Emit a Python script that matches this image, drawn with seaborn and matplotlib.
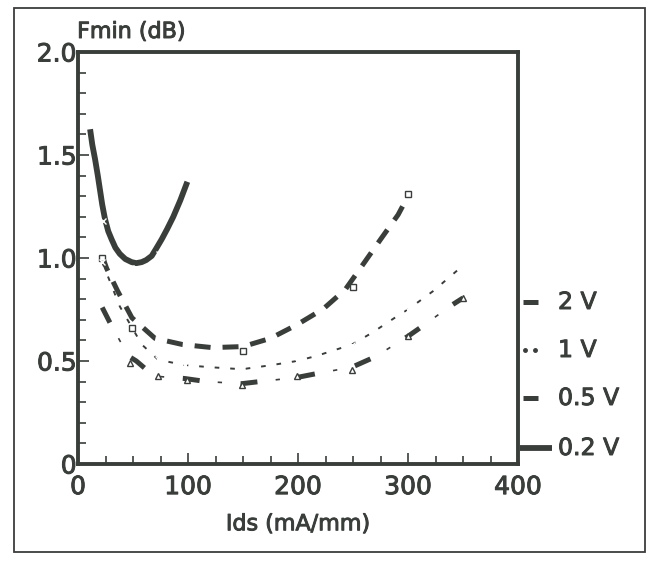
import matplotlib
matplotlib.use("Agg")
import matplotlib.pyplot as plt
import matplotlib.patheffects as pe
import seaborn as sns
from matplotlib.lines import Line2D
from matplotlib.patches import Rectangle
from matplotlib.ticker import MultipleLocator, FixedLocator, FixedFormatter

# ---- data ----
ids_2v = [22, 26, 36, 49, 70, 95, 122, 150, 175, 199, 223, 243, 259, 275, 291, 300]
f_2v = [1.01, 0.95, 0.84, 0.71, 0.61, 0.58, 0.565, 0.57, 0.61, 0.676, 0.753, 0.847, 0.968, 1.09, 1.21, 1.30]
mk_ids_2v = [22, 49, 150, 250, 300]
mk_f_2v = [1.0, 0.66, 0.55, 0.86, 1.31]

ids_1v = [22, 28, 38, 58, 73, 97, 120, 149, 176, 199, 217, 249, 267, 290, 300, 323, 344, 352]
f_1v = [0.98, 0.90, 0.765, 0.58, 0.506, 0.48, 0.47, 0.46, 0.48, 0.50, 0.525, 0.58, 0.636, 0.717, 0.75, 0.84, 0.936, 0.968]
mk_ids_1v = [22, 73, 97, 149, 199, 249, 300, 352]
mk_f_1v = [0.98, 0.51, 0.48, 0.46, 0.50, 0.58, 0.75, 0.97]

ids_05 = [22, 30, 40, 47, 53, 64, 73, 97, 117, 149, 165, 199, 218, 249, 270, 300, 315, 338, 350]
f_05 = [0.76, 0.676, 0.58, 0.52, 0.50, 0.45, 0.425, 0.415, 0.40, 0.39, 0.40, 0.42, 0.44, 0.47, 0.52, 0.62, 0.676, 0.765, 0.806]
mk_ids_05 = [47, 73, 99, 149, 199, 249, 300, 350]
mk_f_05 = [0.49, 0.425, 0.41, 0.384, 0.428, 0.454, 0.623, 0.806]

ids_02 = [11, 13, 15.5, 18, 20, 22, 24.5, 27.5, 30.6, 34, 38, 43, 48.8, 53, 57.9, 62, 67, 71, 76, 81, 86.6, 93, 99.4]
f_02 = [1.625, 1.55, 1.48, 1.40, 1.33, 1.26, 1.19, 1.13, 1.09, 1.05, 1.02, 0.995, 0.98, 0.975, 0.98, 0.99, 1.01, 1.045, 1.09, 1.14, 1.20, 1.28, 1.37]
mk_ids_02 = [23, 48, 74]
mk_f_02 = [1.18, 0.95, 1.02]

legend_labels = ["2 V", "1 V", "0.5 V", "0.2 V"]
y_ticks = [0, 0.5, 1.0, 1.5, 2.0]
y_ticklabels = ["0", "0.5", "1.0", "1.5", "2.0"]
x_ticks = [0, 100, 200, 300, 400]
x_ticklabels = ["0", "100", "200", "300", "400"]

# ---- style ----
sns.set_theme(style="white")
plt.rcParams["font.family"] = ["DejaVu Sans"]
INK = "#3a3e3b"
W, H = 653, 566
THICK = [pe.withStroke(linewidth=0.7, foreground=INK)]

fig = plt.figure(figsize=(W / 100, H / 100), dpi=100)
fig.patch.set_facecolor("white")
ax = fig.add_axes([78 / W, 1 - 464 / H, 440 / W, 412 / H])
ax.set_facecolor("white")

# 0.2 V solid
sns.lineplot(x=ids_02, y=f_02, ax=ax, color=INK, lw=4.2, sort=False,
             estimator=None, solid_capstyle="butt", solid_joinstyle="round")
sns.lineplot(x=mk_ids_02, y=mk_f_02, ax=ax, color=INK, linestyle="none",
             marker="x", markersize=4, markeredgewidth=1.0, sort=False, estimator=None)

# 2 V thick dashes
sns.lineplot(x=ids_2v, y=f_2v, ax=ax, color=INK, lw=3.6, sort=False,
             estimator=None, linestyle=(0, (3.2, 2.4)))
sns.lineplot(x=mk_ids_2v, y=mk_f_2v, ax=ax, color=INK, linestyle="none",
             marker="s", markersize=4, markerfacecolor="white",
             markeredgecolor=INK, markeredgewidth=1.0, sort=False, estimator=None)

# 1 V dotted
sns.lineplot(x=ids_1v, y=f_1v, ax=ax, color=INK, lw=1.4, sort=False,
             estimator=None, linestyle=(0, (2.4, 5.6)))
sns.lineplot(x=mk_ids_1v, y=mk_f_1v, ax=ax, color=INK, linestyle="none",
             marker="x", markersize=4, markeredgewidth=1.0, sort=False, estimator=None)

# 0.5 V dash + thin tick
sns.lineplot(x=ids_05, y=f_05, ax=ax, color=INK, lw=3.6, sort=False,
             estimator=None, linestyle=(0, (3.4, 8.2)))
sns.lineplot(x=ids_05, y=f_05, ax=ax, color=INK, lw=1.2, sort=False,
             estimator=None, linestyle=(14.0, (2.6, 32.3)))
sns.lineplot(x=mk_ids_05, y=mk_f_05, ax=ax, color=INK, linestyle="none",
             marker="^", markersize=4, markerfacecolor="white",
             markeredgecolor=INK, markeredgewidth=1.0, sort=False, estimator=None)

# ---- axes ----
ax.set_xlim(0, 400)
ax.set_ylim(0, 2.0)
for s in ax.spines.values():
    s.set_visible(True)
    s.set_color(INK)
    s.set_linewidth(2.8)

ax.xaxis.set_major_locator(FixedLocator(x_ticks))
ax.xaxis.set_major_formatter(FixedFormatter(x_ticklabels))
ax.yaxis.set_major_locator(FixedLocator(y_ticks))
ax.yaxis.set_major_formatter(FixedFormatter(y_ticklabels))
ax.xaxis.set_minor_locator(MultipleLocator(25))
ax.yaxis.set_minor_locator(MultipleLocator(0.1))
ax.tick_params(which="both", direction="in", color=INK, width=1.2,
               top=False, right=False, left=True, bottom=True)
ax.tick_params(which="major", length=8)
ax.tick_params(which="minor", length=6)
ax.tick_params(axis="y", which="major", labelsize=18, labelcolor=INK, pad=1)
ax.tick_params(axis="x", which="major", labelsize=18, labelcolor=INK, pad=8)
for t in ax.get_xticklabels() + ax.get_yticklabels():
    t.set_path_effects(THICK)

ax.set_xlabel("Ids (mA/mm)", fontsize=16, color=INK, path_effects=THICK)
ax.xaxis.set_label_coords(0.5, -0.122)
ax.set_ylabel("Fmin (dB)", fontsize=16, color=INK, rotation=0,
              ha="left", va="baseline", path_effects=THICK)
ax.yaxis.set_label_coords(-0.002, 1.034)

# ---- legend (right of the axes) ----
leg_y = [302, 350, 398, 448]
def fx(px):
    return px / W
def fy(py):
    return 1 - py / H

fig.add_artist(Line2D([fx(523), fx(538)], [fy(leg_y[0])] * 2, color=INK, lw=3.6,
                      solid_capstyle="butt"))
fig.add_artist(Line2D([fx(525), fx(535)], [fy(leg_y[1])] * 2, color=INK,
                      linestyle="none", marker="o", markersize=2.5))
fig.add_artist(Line2D([fx(523), fx(538)], [fy(leg_y[2])] * 2, color=INK, lw=3.6,
                      solid_capstyle="butt"))
fig.add_artist(Line2D([fx(520), fx(552)], [fy(leg_y[3])] * 2, color=INK, lw=4.2,
                      solid_capstyle="butt"))
for lab, py in zip(legend_labels, leg_y):
    fig.text(fx(558), fy(py), lab, fontsize=17, color=INK, ha="left", va="center",
             path_effects=THICK)

# outer frame of the scanned figure
fig.add_artist(Rectangle((fx(14), fy(552)), fx(645) - fx(14), fy(8) - fy(552),
                         transform=fig.transFigure, fill=False,
                         edgecolor=INK, lw=1.3))

fig.savefig("out.png", dpi=100, facecolor="white")
